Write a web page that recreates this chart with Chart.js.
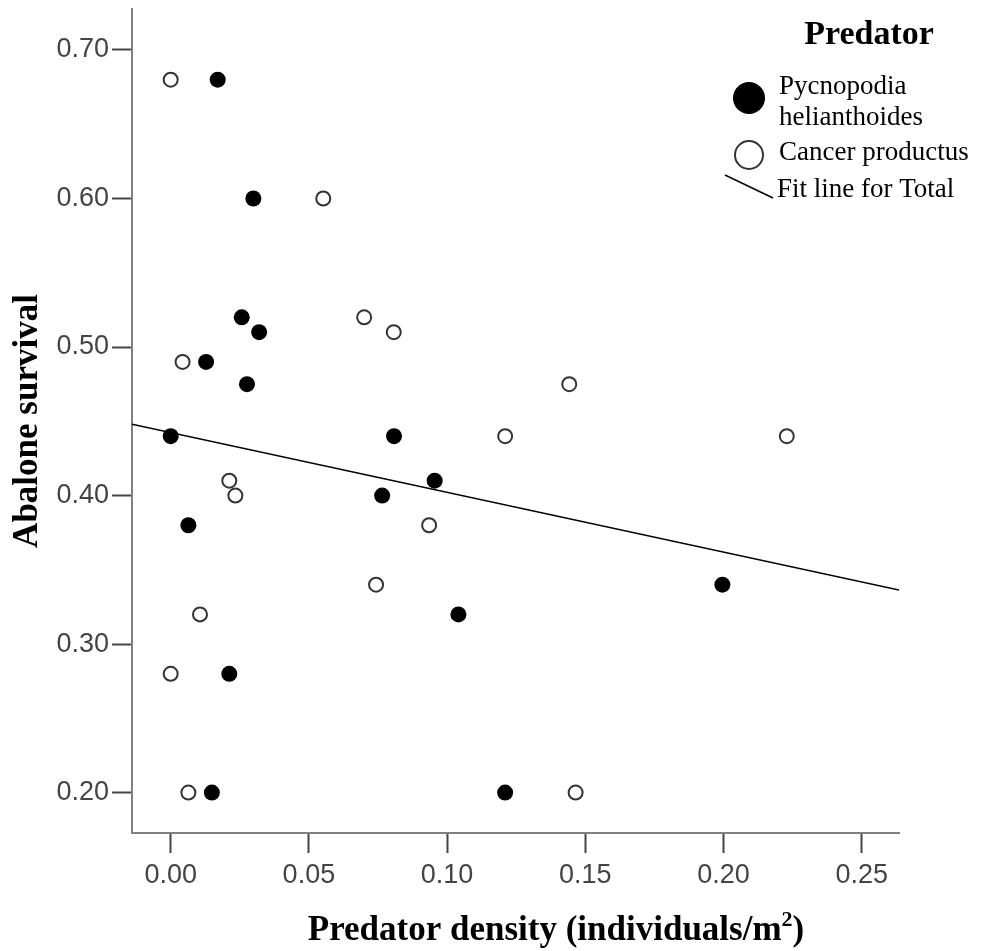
<!DOCTYPE html>
<html><head><meta charset="utf-8">
<script src="https://cdn.jsdelivr.net/npm/chart.js@4.4.0/dist/chart.umd.min.js"></script>
<style>html,body{margin:0;padding:0;background:#fff;}#wrap{width:999px;height:951px;position:relative;}</style>
</head><body><div id="wrap"><canvas id="c" width="999" height="951"></canvas></div>
<script>
// ---- data ----
const xTicks = [0.00, 0.05, 0.10, 0.15, 0.20, 0.25];
const yTicks = [0.20, 0.30, 0.40, 0.50, 0.60, 0.70];
const xRange = [-0.0140, 0.2635];
const yRange = [0.1728, 0.7276];

const pycnoDensity  = [0.0170, 0.0299, 0.0257, 0.0320, 0.0128, 0.0276, 0.0000, 0.0808, 0.0765, 0.0955, 0.0064, 0.1041, 0.1996, 0.0212, 0.0149, 0.1210];
const pycnoSurvival = [0.68,   0.60,   0.52,   0.51,   0.49,   0.475,  0.44,   0.44,   0.40,   0.41,   0.38,   0.32,   0.34,   0.28,   0.20,   0.20];

const cancerDensity  = [0.0000, 0.0552, 0.0700, 0.0807, 0.0043, 0.1442, 0.1210, 0.2229, 0.0212, 0.0234, 0.0935, 0.0743, 0.0106, 0.0000, 0.0064, 0.1465];
const cancerSurvival = [0.68,   0.60,   0.52,   0.51,   0.49,   0.475,  0.44,   0.44,   0.41,   0.40,   0.38,   0.34,   0.32,   0.28,   0.20,   0.20];

const fitIntercept = 0.4424;
const fitSlope = -0.402;

const seriesNames = ['Pycnopodia helianthoides', 'Cancer productus', 'Fit line for Total'];
const xTitle = 'Predator density (individuals/m';
const yTitle = 'Abalone survival';
const legendTitle = 'Predator';

// ---- build chart ----
const toPts = (xs, ys) => xs.map((x, i) => ({x: x, y: ys[i]}));
const fitPts = xRange.map(x => ({x: x, y: fitIntercept + fitSlope * x}));

const SERIF = '"Liberation Serif","Times New Roman",serif';

const decorPlugin = {
  id: 'decor',
  afterDraw(chart) {
    const ctx = chart.ctx;
    ctx.save();
    ctx.fillStyle = '#000';
    // X axis title with superscript
    const main = 'bold 35px ' + SERIF, sup = 'bold 22px ' + SERIF;
    ctx.font = main; const w1 = ctx.measureText(xTitle).width; const w3 = ctx.measureText(')').width;
    ctx.font = sup; const w2 = ctx.measureText('2').width;
    const total = w1 + w2 + w3;
    let x0 = 556 - total / 2;
    const base = 940;
    ctx.textAlign = 'left'; ctx.textBaseline = 'alphabetic';
    ctx.font = main; ctx.fillText(xTitle, x0, base);
    ctx.font = sup; ctx.fillText('2', x0 + w1, base - 14);
    ctx.font = main; ctx.fillText(')', x0 + w1 + w2, base);

    // Y axis title
    ctx.save();
    ctx.translate(37, 421);
    ctx.rotate(-Math.PI / 2);
    ctx.textAlign = 'center';
    ctx.font = 'bold 35px ' + SERIF;
    ctx.fillText(yTitle, 0, 0);
    ctx.restore();

    // Legend
    ctx.textAlign = 'center';
    ctx.font = 'bold 34px ' + SERIF;
    ctx.fillText(legendTitle, 869, 44);
    ctx.textAlign = 'left';
    ctx.font = '27px ' + SERIF;
    const nm = seriesNames[0].split(' ');
    ctx.beginPath(); ctx.arc(749, 98, 16, 0, Math.PI * 2); ctx.fillStyle = '#000'; ctx.fill();
    ctx.fillText(nm[0], 779, 94);
    ctx.fillText(nm[1], 779, 125);
    ctx.beginPath(); ctx.arc(749, 155, 14, 0, Math.PI * 2);
    ctx.fillStyle = '#fff'; ctx.fill(); ctx.lineWidth = 2; ctx.strokeStyle = '#333'; ctx.stroke();
    ctx.fillStyle = '#000';
    ctx.fillText(seriesNames[1], 779, 160);
    ctx.beginPath(); ctx.moveTo(725, 175); ctx.lineTo(773, 198);
    ctx.lineWidth = 1.5; ctx.strokeStyle = '#000'; ctx.stroke();
    ctx.fillText(seriesNames[2], 777, 197);
    ctx.restore();
  }
};

const tickFont = {family: '"Liberation Sans", Arial, sans-serif', size: 27};

new Chart(document.getElementById('c'), {
  type: 'scatter',
  data: {
    datasets: [
      {label: seriesNames[0], data: toPts(pycnoDensity, pycnoSurvival), pointRadius: 8, pointBackgroundColor: '#000', pointBorderWidth: 0, backgroundColor: '#000', borderWidth: 0},
      {label: seriesNames[1], data: toPts(cancerDensity, cancerSurvival), pointRadius: 7, pointBackgroundColor: '#fff', pointBorderColor: '#333', pointBorderWidth: 2, backgroundColor: '#fff', borderColor: '#333'},
      {label: seriesNames[2], data: fitPts, showLine: true, pointRadius: 0, borderColor: '#000', borderWidth: 1.5, fill: false}
    ]
  },
  options: {
    responsive: false,
    animation: false,
    devicePixelRatio: 1,
    layout: {padding: {top: 9, right: 100, left: 0, bottom: 0}},
    plugins: {legend: {display: false}, tooltip: {enabled: false}},
    scales: {
      x: {
        type: 'linear', min: xRange[0], max: xRange[1],
        afterBuildTicks: s => { s.ticks = xTicks.map(v => ({value: v})); },
        afterFit: s => { s.height = 118; s.paddingLeft = 0; s.paddingRight = 0; },
        ticks: {callback: v => Number(v).toFixed(2), font: tickFont, color: '#444', padding: 6, maxRotation: 0, autoSkip: false},
        grid: {drawOnChartArea: false, drawTicks: true, tickLength: 20, tickColor: '#444', tickWidth: 2},
        border: {display: true, color: '#808080', width: 2}
      },
      y: {
        type: 'linear', min: yRange[0], max: yRange[1],
        afterBuildTicks: s => { s.ticks = yTicks.map(v => ({value: v})); },
        afterFit: s => { s.width = 132; s.paddingTop = 0; s.paddingBottom = 0; },
        ticks: {callback: v => Number(v).toFixed(2), font: tickFont, color: '#444', padding: 3, autoSkip: false},
        grid: {drawOnChartArea: false, drawTicks: true, tickLength: 20, tickColor: '#444', tickWidth: 2},
        border: {display: true, color: '#808080', width: 2}
      }
    }
  },
  plugins: [decorPlugin]
});
</script></body></html>
